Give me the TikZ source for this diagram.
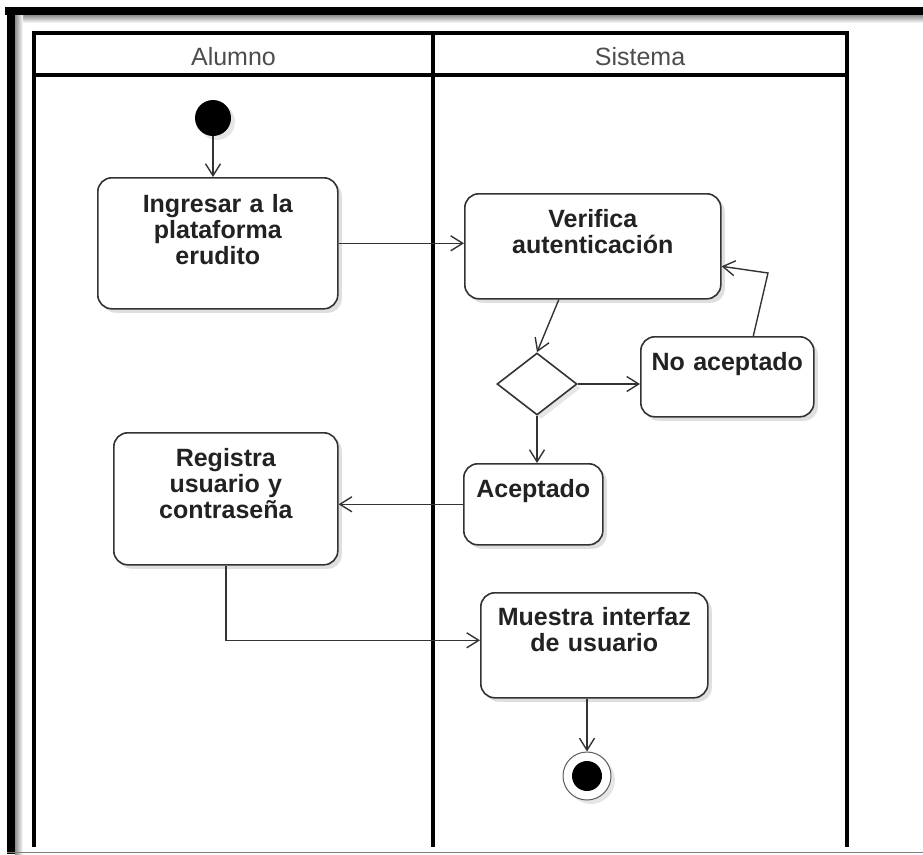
\documentclass[tikz,border=0pt]{standalone}
\usepackage{fontspec}
\setmainfont{Liberation Sans}
\usetikzlibrary{arrows.meta,shapes.geometric,shadows}

\definecolor{linegray}{HTML}{333333}
\definecolor{textgray}{HTML}{222222}

\begin{document}
\begin{tikzpicture}[
  x=1pt, y=-1pt,
  lane/.style={line width=3.5pt, black},
  lanelabel/.style={anchor=base, text=black!70, font=\fontsize{25}{26}\selectfont},
  act/.style={draw=linegray, line width=1.6pt, rounded corners=14pt, fill=white,
    anchor=north west, inner xsep=0pt, inner ysep=0pt, align=center,
    text=textgray, font=\fontsize{25}{26}\selectfont\bfseries,
    drop shadow={shadow xshift=4pt, shadow yshift=-4pt, opacity=0.25}},
  decision/.style={diamond, draw=linegray, line width=1.6pt, fill=white,
    minimum width=80pt, minimum height=62pt, inner sep=0pt,
    drop shadow={shadow xshift=4pt, shadow yshift=-4pt, opacity=0.2}},
  initial/.style={circle, fill=black, minimum size=36pt, inner sep=0pt,
    drop shadow={shadow xshift=4pt, shadow yshift=-4pt, opacity=0.2}},
  final/.style={circle, draw=linegray!80, line width=1pt, fill=white,
    minimum size=48pt, inner sep=0pt,
    drop shadow={shadow xshift=4pt, shadow yshift=-4pt, opacity=0.2}},
  flow/.style={draw=linegray, line width=1.4pt, -{Straight Barb[length=12pt, width=15pt]}}
]
\useasboundingbox (0,0) rectangle (923,854);

% frame
\shade[top color=black!45, bottom color=white] (15,15) rectangle (923,23);
\shade[left color=black!45, right color=white] (15,15) rectangle (23,854);
\fill (5,7) rectangle (923,15);
\fill (7,7) rectangle (15,854);
\draw[black!50, line width=1pt] (7,852.5) -- (923,852.5);

% swimlanes
\draw[lane] (34,33) rectangle (847,75);
\draw[lane] (34,75) -- (34,847);
\draw[lane] (433,33) -- (433,847);
\draw[lane] (847,75) -- (847,847);
\node[lanelabel] (alumno) at (233.5,65) {Alumno};
\node[lanelabel] (sistema) at (640,65) {Sistema};

% nodes
\node[initial] (inicio) at (213,118) {};
\node[act, text width=240pt, text height=35pt, text depth=96pt] (ingresar) at (97,177)
  {Ingresar a la\\plataforma\\erudito};
\node[act, text width=256pt, text height=34pt, text depth=71pt] (verifica) at (464,193)
  {Verifica\\autenticación};
\node[decision] (decision) at (537,384) {};
\node[act, text width=173pt, text height=34pt, text depth=46pt] (noacep) at (640,336)
  {No aceptado};
\node[act, text width=139pt, text height=34pt, text depth=47pt] (acep) at (463,463)
  {Aceptado};
\node[act, text width=224pt, text height=34pt, text depth=98pt] (registra) at (113,432)
  {Registra\\usuario y\\contraseña};
\node[act, text width=227pt, text height=33pt, text depth=72pt] (muestra) at (480,592)
  {Muestra interfaz\\de usuario};
\node[final] (fin) at (587,776) {};
\fill (fin.center) circle (15);
\coordinate (loopbend) at (768,273);

% connectors
\draw[flow] (inicio.south) -- (inicio.south |- ingresar.north);
\draw[flow] (ingresar.east) -- (ingresar.east -| verifica.west);
\draw[flow] ([xshift=-34pt]verifica.south) -- (decision.north);
\draw[flow] (decision.east) -- (decision.east -| noacep.west);
\draw[flow] ([xshift=26pt]noacep.north) -- (loopbend) -- ([yshift=-20pt]verifica.east);
\draw[flow] (decision.south) -- (decision.south |- acep.north);
\draw[flow] (acep.west) -- (acep.west -| registra.east);
\draw[flow] (registra.south) |- ([yshift=5pt]muestra.west);
\draw[flow] (fin |- muestra.south) -- (fin.north);
\end{tikzpicture}
\end{document}
